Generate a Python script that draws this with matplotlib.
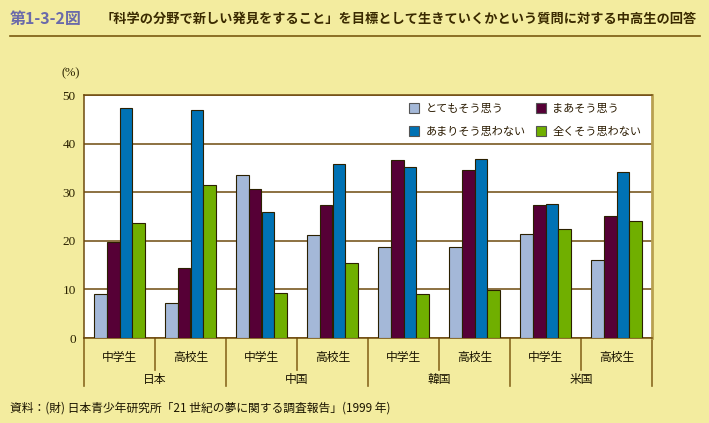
import matplotlib.pyplot as plt
from matplotlib.lines import Line2D
import numpy as np

plt.rcParams['font.family'] = ['Noto Sans CJK JP', 'DejaVu Sans']

countries = ['日本', '中国', '韓国', '米国']
schools = ['中学生', '高校生']
series = ['とてもそう思う', 'まあそう思う', 'あまりそう思わない', '全くそう思わない']
# order: 日本中, 日本高, 中国中, 中国高, 韓国中, 韓国高, 米国中, 米国高
totemo = [9.0, 7.1, 33.5, 21.1, 18.7, 18.7, 21.4, 16.0]
maa = [19.8, 14.5, 30.7, 27.4, 36.6, 34.6, 27.4, 25.0]
amari = [47.3, 46.9, 25.9, 35.9, 35.1, 36.8, 27.6, 34.1]
mattaku = [23.6, 31.4, 9.2, 15.4, 9.0, 9.8, 22.4, 24.1]
colors = ['#A4B8D8', '#560036', '#0072B4', '#70AF00']

bg = '#F3EC9F'
brown = '#6E4A0E'
fig = plt.figure(figsize=(7.09, 4.23), dpi=100, facecolor=bg)
ax = fig.add_axes([84/709, 1 - 338/423, 568/709, 243/423])
ax.set_facecolor('white')

x = np.arange(8) + 0.5
w = 0.179
for i, vals in enumerate([totemo, maa, amari, mattaku]):
    ax.bar(x + (i - 1.5) * w, vals, w, color=colors[i], edgecolor='#2b2000',
           linewidth=0.8, zorder=3)

ax.set_xlim(0, 8)
ax.set_ylim(0, 50)
ax.set_yticks([0, 10, 20, 30, 40, 50])
ax.set_yticklabels(['0', '10', '20', '30', '40', '50'], family='Liberation Serif',
                   fontsize=9.5, color='#2a2200')
ax.tick_params(axis='y', length=0, pad=6)
ax.set_xticks([])
ax.grid(axis='y', color=brown, linewidth=1.1, zorder=1)
for s in ['left', 'bottom', 'top']:
    ax.spines[s].set_color(brown)
    ax.spines[s].set_linewidth(1.1)
ax.spines['right'].set_color('#B8A050')
ax.spines['right'].set_linewidth(2)

# category axis below
tr = ax.get_xaxis_transform()
for k in range(9):
    depth = -48/243 if k % 2 == 0 else -32/243
    ax.plot([k, k], [0, depth], color='#8A6A20', lw=1.2, transform=tr, clip_on=False)
for k in range(8):
    ax.text(k + 0.5, -19/243, schools[k % 2], transform=tr, ha='center', va='center',
            fontsize=8.5, color='#1a1400')
for j, c in enumerate(countries):
    ax.text(2 * j + 1, -41/243, c, transform=tr, ha='center', va='center',
            fontsize=8.5, color='#1a1400')

handles = [Line2D([], [], marker='s', ls='none', markersize=6.5,
                  markerfacecolor=colors[i], markeredgecolor='#555555', markeredgewidth=0.8)
           for i in [0, 2, 1, 3]]
labels = [series[i] for i in [0, 2, 1, 3]]
leg = ax.legend(handles, labels, ncol=2, loc='upper left', bbox_to_anchor=(0.558, 1.0),
                frameon=False, fontsize=8, handlelength=0.8, handletextpad=0.6,
                columnspacing=1.0, labelspacing=1.2, borderaxespad=0.4)
for t in leg.get_texts():
    t.set_color('#2a1a00')

fig.text(61/709, 1 - 73/423, '(%)', ha='left', va='center', fontsize=9,
         family='Liberation Serif', color='#2a2200')

# title
fig.text(10/709, 1 - 19/423, '第1-3-2図', ha='left', va='center', fontsize=11.5,
         color='#6A6AAA', weight='bold')
fig.text(101/709, 1 - 19/423,
         '「科学の分野で新しい発見をすること」を目標として生きていくかという質問に対する中高生の回答',
         ha='left', va='center', fontsize=9.5, color='#3a2a00', weight='bold')
fig.add_artist(Line2D([10/709, 700/709], [1 - 36/423, 1 - 36/423], color='#7A5A10', lw=1.2))

fig.text(10/709, 1 - 408/423,
         '資料：(財) 日本青少年研究所「21 世紀の夢に関する調査報告」(1999 年)',
         ha='left', va='center', fontsize=8.5, color='#1a1400')

fig.savefig('out.png', dpi=100, facecolor=bg)
